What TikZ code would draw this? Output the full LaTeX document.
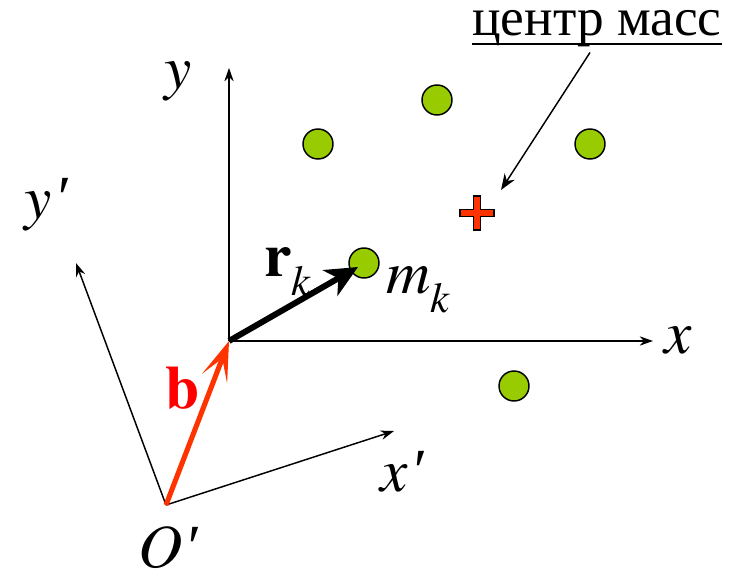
\documentclass[tikz,border=0pt]{standalone}
\usepackage{fontspec}
\setmainfont{texgyretermes}[Extension=.otf,UprightFont=*-regular,ItalicFont=*-italic,BoldFont=*-bold,BoldItalicFont=*-bolditalic]
\newfontfamily\cyrfont{Liberation Serif}
\newcommand{\prm}{{\cyrfont\itshape ′}}
\usetikzlibrary{arrows.meta}
\definecolor{massgreen}{HTML}{99CC00}
\definecolor{bred}{HTML}{FF3300}
\tikzset{
  axis/.style={line width=1.1pt,-{Stealth[length=10pt,width=7pt]}},
  mass/.style={circle,draw=black,line width=1.1pt,fill=massgreen,minimum size=22.5pt,inner sep=0pt},
  lbl/.style={font=\fontsize{46}{50}\selectfont,inner sep=0pt},
}
\begin{document}
\begin{tikzpicture}[x=0.75pt,y=-0.75pt]
\useasboundingbox (0,0) rectangle (730,580);
% origins
\coordinate (O) at (229,341);
\coordinate (Op) at (166,505);
\coordinate (xe) at (653,341);
\coordinate (ye) at (229,68);
\coordinate (xpe) at (394,431);
\coordinate (ype) at (76,263);
% axes
\draw[axis] (O) -- (xe);
\draw[axis] (O) -- (ye);
\draw[axis] (Op) -- (xpe);
\draw[axis] (Op) -- (ype);
% labels of axes
\node[lbl] (lx) at (678,340) {\textit{x}};
\node[lbl] (ly) at (178,81) {\textit{y}};
\node[lbl] (lyp) at (46,205) {\textit{y}\kern2pt\prm};
\node[lbl] (lxp) at (402,472) {\textit{x}\kern2pt\prm};
\node[lbl] (lO) at (168,548) {\textit{O}\kern1pt\prm};
% masses
\node[mass] (m1) at (318,144) {};
\node[mass] (m2) at (437,100) {};
\node[mass] (m3) at (590,144) {};
\node[mass] (m4) at (514,386) {};
\node[mass] (mk) at (364,263) {};
% centre of mass cross
\fill[bred,draw=black,line width=0.8pt]
  (473.5,196) -- (480.5,196) -- (480.5,209.5) -- (494,209.5) -- (494,216.5) -- (480.5,216.5)
  -- (480.5,230) -- (473.5,230) -- (473.5,216.5) -- (460,216.5) -- (460,209.5) -- (473.5,209.5) -- cycle;
\coordinate (cm) at (501,190);
% vectors
\draw[line width=4.5pt,-{Stealth[length=24pt,width=22pt,inset=7pt]}] (O) -- ([shift={(-6,4)}]mk.center);
\draw[bred,line width=3.8pt,-{Stealth[length=30pt,width=20pt,inset=16pt]}] (Op) -- (O);
\node[lbl,font=\fontsize{46}{50}\selectfont\bfseries,text=red] (lb) at (183,388) {b};
\node[lbl] (lr) at (288,272) {\textbf{r}\raisebox{-14pt}{\fontsize{32}{34}\selectfont\textit{k}}};
\node[lbl] (lm) at (418,290) {\textit{m}\raisebox{-14pt}{\fontsize{32}{34}\selectfont\textit{k}}};
% centre-of-mass label
\node[inner sep=0pt,font=\fontsize{40}{44}\selectfont\cyrfont] (cml) at (597,29) {центр масс};
\draw[line width=2.2pt] (472,44) -- (722,44);
\draw[line width=1.1pt,-{Stealth[length=12pt,width=9pt]}] (cml.south -| 590,0) ++(0,5) -- (cm);
\end{tikzpicture}
\end{document}
